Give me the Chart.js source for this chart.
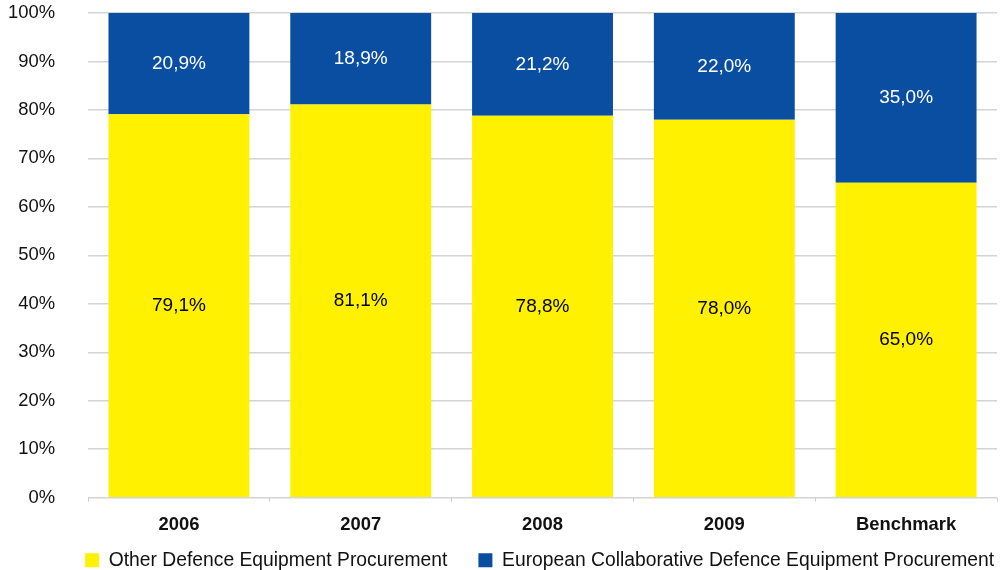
<!DOCTYPE html>
<html>
<head>
<meta charset="utf-8">
<script src="https://cdn.jsdelivr.net/npm/chart.js@4.4.1/dist/chart.umd.min.js"></script>
<style>
html,body{margin:0;padding:0;background:#fff;}
#wrap{width:1002px;height:570px;position:relative;}
</style>
</head>
<body>
<div id="wrap"><canvas id="c"></canvas></div>
<script>
const categories = ['2006', '2007', '2008', '2009', 'Benchmark'];
const otherProcurement = [79.1, 81.1, 78.8, 78.0, 65.0];
const europeanCollaborative = [20.9, 18.9, 21.2, 22.0, 35.0];
const seriesNames = ['Other Defence Equipment Procurement', 'European Collaborative Defence Equipment Procurement'];
const yTicks = [0, 10, 20, 30, 40, 50, 60, 70, 80, 90, 100];

const FONT = '"Liberation Sans", Arial, Helvetica, sans-serif';

const labelPlugin = {
  id: 'barLabels',
  afterDatasetsDraw(chart) {
    const ctx = chart.ctx;
    ctx.save();
    ctx.font = '19px ' + FONT;
    ctx.textAlign = 'center';
    ctx.textBaseline = 'middle';
    chart.data.datasets.forEach((ds, di) => {
      const meta = chart.getDatasetMeta(di);
      meta.data.forEach((bar, i) => {
        const v = ds.data[i];
        const yc = (bar.y + bar.base) / 2;
        ctx.fillStyle = ds.labelColor;
        ctx.fillText(v.toFixed(1).replace('.', ',') + '%', bar.x, yc);
      });
    });
    ctx.restore();
  }
};

const layoutTweak = {
  id: 'layoutTweak',
  afterLayout(chart) {
    const lg = chart.legend;
    if (lg) {
      lg.left += 28; lg.right += 28;
      lg.top += 10; lg.bottom += 10;
    }
    const x = chart.scales.x;
    x.height = 45;
    x.bottom = x.top + 45;
  }
};

new Chart(document.getElementById('c'), {
  type: 'bar',
  data: {
    labels: categories,
    datasets: [
      { label: seriesNames[0], data: otherProcurement, backgroundColor: '#FFF100', labelColor: '#000000', borderWidth: 0 },
      { label: seriesNames[1], data: europeanCollaborative, backgroundColor: '#0A4EA2', labelColor: '#FFFFFF', borderWidth: 0 }
    ]
  },
  options: {
    responsive: true,
    maintainAspectRatio: false,
    animation: false,
    datasets: { bar: { categoryPercentage: 1.0, barPercentage: 0.775 } },
    layout: { padding: { left: 8, right: 5, top: 13, bottom: 0 } },
    plugins: {
      legend: {
        position: 'bottom',
        align: 'end',
        labels: {
          font: { family: FONT, size: 19.3 },
          color: '#111',
          boxWidth: 14,
          boxHeight: 14,
          padding: 31
        }
      },
      tooltip: { enabled: false }
    },
    scales: {
      x: {
        stacked: true,
        grid: { display: true, drawOnChartArea: false, tickLength: 4, color: '#c8c8c8', offset: true },
        border: { display: false },
        ticks: { font: { family: FONT, size: 18.4, weight: 'bold' }, color: '#111', padding: 12 },
        afterFit(axis) { axis.height = 12; }
      },
      y: {
        stacked: true,
        min: 0, max: 100,
        afterBuildTicks(axis) { axis.ticks = yTicks.map(v => ({ value: v })); },
        grid: { color: '#d4d4d4', lineWidth: 1.5, drawTicks: true, tickLength: 33, tickColor: 'rgba(0,0,0,0)' },
        border: { display: false },
        ticks: { font: { family: FONT, size: 18.4 }, color: '#111', padding: 0, callback: v => v + '%' }
      }
    }
  },
  plugins: [labelPlugin, layoutTweak]
});
</script>
</body>
</html>
